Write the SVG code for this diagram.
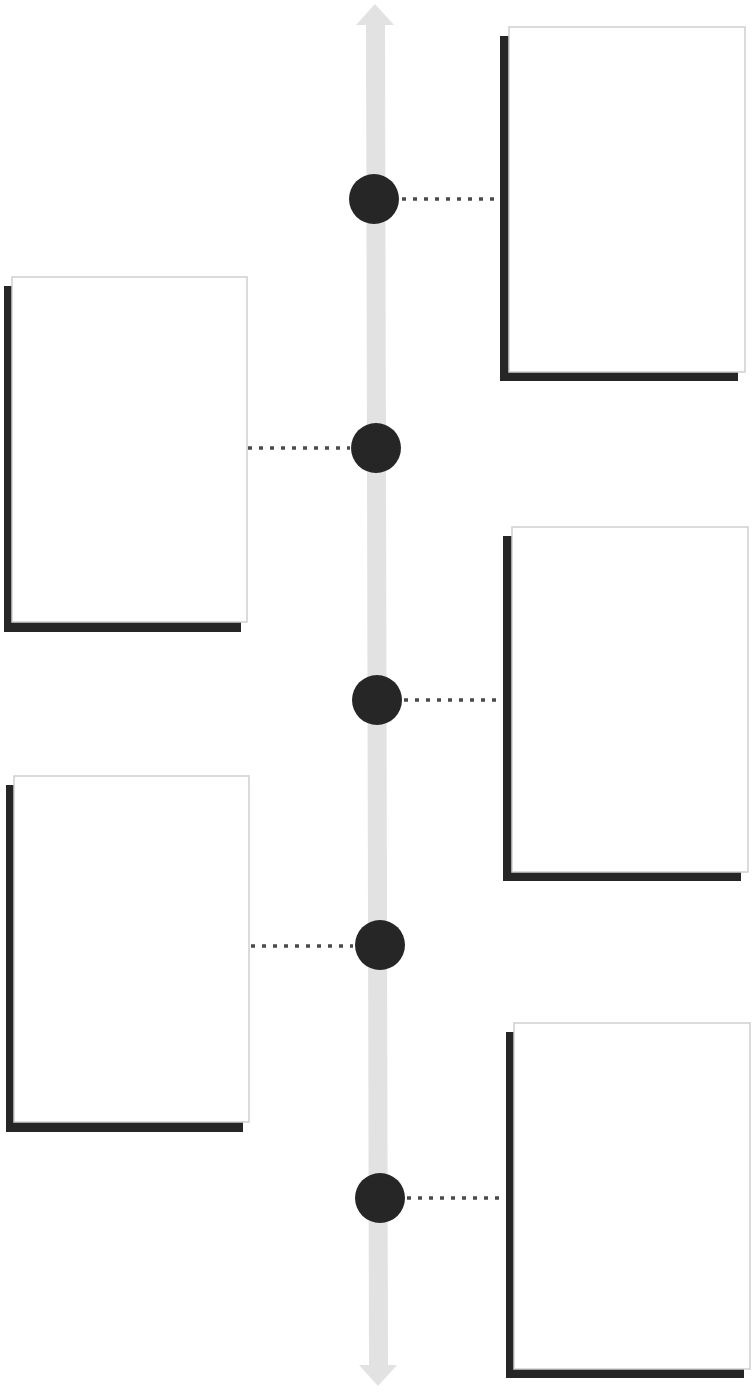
<svg xmlns="http://www.w3.org/2000/svg" width="753" height="1395" viewBox="0 0 753 1395">
  <style>
    .shadow { fill: #262626; }
    .card { fill: #ffffff; stroke: #cfcfcf; stroke-width: 1.5; }
    .dot { fill: #262626; }
    .link { stroke: #4a4a4a; stroke-width: 3.5; stroke-dasharray: 4 7; fill: none; }
    .axis { fill: #e2e2e2; }
  </style>
  <rect width="753" height="1395" fill="#ffffff"/>
  <g id="axis">
    <polygon class="axis" points="375,4 394,25 385,25 388,1365 397,1365 378,1386 359,1365 369,1365 366,25 356,25"/>
  </g>
  <g id="connectors">
    <line class="link" x1="402" y1="199" x2="498" y2="199"/>
    <line class="link" x1="248" y1="448" x2="350" y2="448"/>
    <line class="link" x1="404" y1="700" x2="500" y2="700"/>
    <line class="link" x1="251" y1="946" x2="353" y2="946"/>
    <line class="link" x1="407" y1="1198" x2="503" y2="1198"/>
  </g>
  <g id="dots">
    <circle class="dot" cx="374" cy="199" r="25"/>
    <circle class="dot" cx="376" cy="448" r="25"/>
    <circle class="dot" cx="377" cy="700" r="25"/>
    <circle class="dot" cx="380" cy="945" r="25"/>
    <circle class="dot" cx="380" cy="1198" r="25"/>
  </g>
  <g id="box1">
    <rect class="shadow" x="500" y="36" width="238" height="345"/>
    <rect class="card" x="509" y="27" width="236" height="345"/>
  </g>
  <g id="box2">
    <rect class="shadow" x="4" y="286" width="237" height="346"/>
    <rect class="card" x="12" y="277" width="235" height="345"/>
  </g>
  <g id="box3">
    <rect class="shadow" x="503" y="536" width="238" height="345"/>
    <rect class="card" x="512" y="527" width="236" height="345"/>
  </g>
  <g id="box4">
    <rect class="shadow" x="6" y="785" width="237" height="347"/>
    <rect class="card" x="14" y="776" width="235" height="346"/>
  </g>
  <g id="box5">
    <rect class="shadow" x="506" y="1032" width="238" height="346"/>
    <rect class="card" x="514" y="1023" width="236" height="346"/>
  </g>
</svg>
